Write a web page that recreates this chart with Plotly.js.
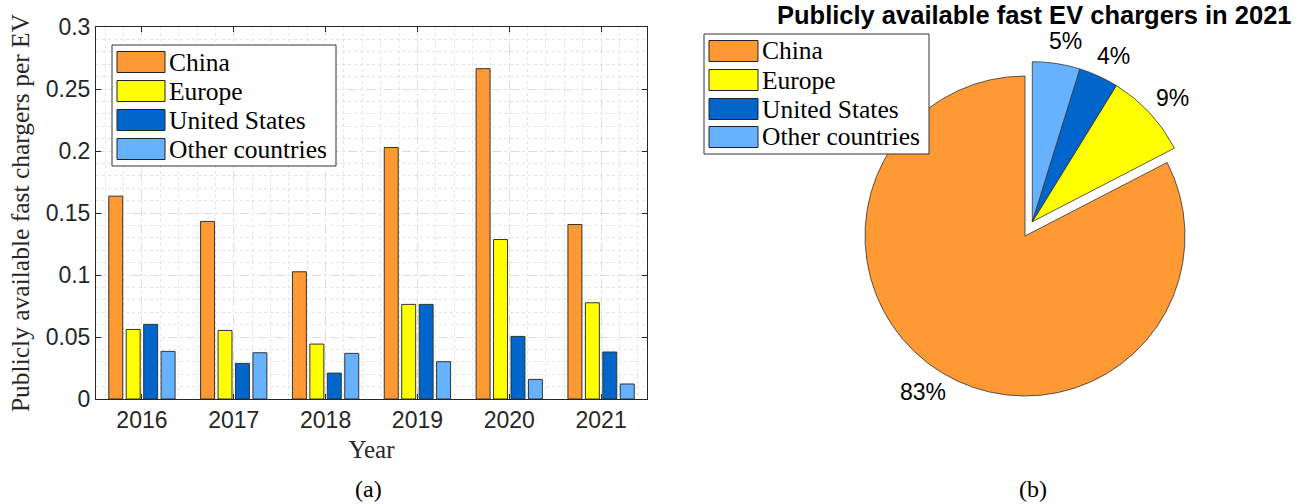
<!DOCTYPE html>
<html>
<head>
<meta charset="utf-8">
<script src="https://cdn.plot.ly/plotly-3.0.1.min.js"></script>
<style>html,body{margin:0;padding:0;background:#fff;}#chart{width:1308px;height:504px;}</style>
</head>
<body>
<div id="chart"></div>
<script>
// ---- data ----
const years = [2016, 2017, 2018, 2019, 2020, 2021];
const seriesNames = ["China", "Europe", "United States", "Other countries"];
const china = [0.1636, 0.1432, 0.1026, 0.2028, 0.2664, 0.1407];
const europe = [0.0561, 0.0553, 0.0443, 0.0763, 0.1286, 0.0776];
const unitedStates = [0.0602, 0.0287, 0.0209, 0.0763, 0.0505, 0.0379];
const otherCountries = [0.0384, 0.0373, 0.0368, 0.0301, 0.0158, 0.0121];
const pieShares2021 = [82.6, 8.6, 4.0, 4.8];
const pieLabels = ["83%", "9%", "4%", "5%"];
const yTickVals = [0, 0.05, 0.1, 0.15, 0.2, 0.25, 0.3];
const yTickText = ["0", "0.05", "0.1", "0.15", "0.2", "0.25", "0.3"];

// ---- style ----
const colors = ["#FF9933", "#FFFF00", "#0066CC", "#66B2FF"];
const clear = "rgba(0,0,0,0)";
const W = 1308, H = 504;
const px = v => v / W;
const py = v => 1 - v / H;
const axisColor = "#262626";
const serif = "Liberation Serif, Times New Roman, serif";
const sans = "Liberation Sans, Arial, sans-serif";

const barSeries = [china, europe, unitedStates, otherCountries];
const traces = barSeries.map((vals, i) => ({
  type: "bar",
  x: years,
  y: vals,
  name: seriesNames[i],
  marker: {color: colors[i], line: {color: "#333333", width: 1}},
  showlegend: false,
  hoverinfo: "x+y+name"
}));

// pie: China first, counter-clockwise; the small slices end at 12 o'clock and are exploded as one group
const pieTotal = pieShares2021.reduce((a, b) => a + b, 0);
const pieRotation = 360 * (pieTotal - pieShares2021[0]) / pieTotal;
const pieR = 160;                       // radius in px
const pieCenter = [1025, 236];          // China's apex
const explodeShift = [7.3, -14.3];      // shift of the exploded group
const groupCenter = [pieCenter[0] + explodeShift[0], pieCenter[1] + explodeShift[1]];
function pieDomain(c) {
  return {x: [px(c[0] - pieR), px(c[0] + pieR)], y: [py(c[1] + pieR), py(c[1] - pieR)]};
}
const mainMask = [true, false, false, false];

traces.push({
  type: "pie", labels: seriesNames, values: pieShares2021, sort: false,
  direction: "counterclockwise", rotation: pieRotation,
  marker: {colors: colors.map((c, i) => mainMask[i] ? c : clear),
           line: {color: "#333333", width: mainMask.map(m => m ? 0.8 : 0)}},
  textinfo: "none", domain: pieDomain(pieCenter), showlegend: false
});
traces.push({
  type: "pie", labels: seriesNames, values: pieShares2021, sort: false,
  direction: "counterclockwise", rotation: pieRotation,
  marker: {colors: colors.map((c, i) => mainMask[i] ? clear : c),
           line: {color: "#333333", width: mainMask.map(m => m ? 0 : 0.8)}},
  textinfo: "none", domain: pieDomain(groupCenter), showlegend: false
});

const shapes = [];
const annotations = [];

// percentage labels outside each slice along its bisector (MATLAB-like)
(function () {
  let a = pieRotation;
  pieShares2021.forEach((v, i) => {
    const span = 360 * v / pieTotal;
    let mid;
    if (i === 0) { mid = a + span / 2; a = pieRotation; }
    else { a = a - span; mid = a + span / 2; }
    const c = mainMask[i] ? pieCenter : groupCenter;
    const rad = mid * Math.PI / 180;
    const d = pieR * 1.14;
    const dx = d * Math.sin(rad), dy = -d * Math.cos(rad);
    const nudge = dx >= 0 ? 6 : -7;
    annotations.push({xref: "paper", yref: "paper", x: px(c[0] + dx + nudge), y: py(c[1] + dy),
      xanchor: "center", yanchor: "middle", showarrow: false, text: pieLabels[i],
      font: {family: sans, size: 23, color: "#000"}});
  });
})();

// custom legends (big MATLAB-style swatches)
function addLegend(x0, x1, y0, y1, swL, swR, rowCenters, textX) {
  shapes.push({type: "rect", xref: "paper", yref: "paper", layer: "above",
    x0: px(x0), x1: px(x1), y0: py(y1), y1: py(y0),
    fillcolor: "#ffffff", line: {color: "#333333", width: 1}});
  seriesNames.forEach((nm, i) => {
    const c = rowCenters[i];
    shapes.push({type: "rect", xref: "paper", yref: "paper", layer: "above",
      x0: px(swL), x1: px(swR), y0: py(c + 10.5), y1: py(c - 10.5),
      fillcolor: colors[i], line: {color: "#222222", width: 1}});
    annotations.push({xref: "paper", yref: "paper", x: px(textX), y: py(c),
      xanchor: "left", yanchor: "middle", showarrow: false, text: nm,
      font: {family: serif, size: 25.5, color: "#000"}});
  });
}
addLegend(112, 336, 45, 166, 117, 165, [62, 91, 120, 149], 167);
addLegend(704, 929, 34, 154, 709, 758, [51, 80, 109, 137], 760);

annotations.push({xref: "paper", yref: "paper", x: px(369), y: py(489), showarrow: false,
  text: "(a)", font: {family: serif, size: 24, color: "#000"}, xanchor: "center", yanchor: "middle"});
annotations.push({xref: "paper", yref: "paper", x: px(1033), y: py(489), showarrow: false,
  text: "(b)", font: {family: serif, size: 24, color: "#000"}, xanchor: "center", yanchor: "middle"});
annotations.push({xref: "paper", yref: "paper", x: px(1034), y: py(15), showarrow: false,
  text: "<b>Publicly available fast EV chargers in 2021</b>",
  font: {family: sans, size: 25.5, color: "#000"}, xanchor: "center", yanchor: "middle"});

const layout = {
  width: W, height: H,
  margin: {l: 0, r: 0, t: 0, b: 0},
  paper_bgcolor: "#fff", plot_bgcolor: "#fff",
  barmode: "group", bargap: 0.24, bargroupgap: 0.2,
  xaxis: {
    domain: [px(96), px(647)],
    range: [2015.5, 2021.5],
    tickvals: years,
    ticktext: years.map(String),
    tickfont: {family: sans, size: 23, color: axisColor},
    ticks: "inside", ticklen: 5, tickcolor: axisColor,
    showline: true, linecolor: axisColor, linewidth: 1, mirror: "ticks",
    showgrid: true, gridcolor: "#dcdcdc", griddash: "dash", gridwidth: 1,
    minor: {dtick: 0.2, tick0: 2016, showgrid: true, gridcolor: "#e4e4e4", griddash: "dot", ticks: ""},
    zeroline: false,
    title: {text: "Year", font: {family: serif, size: 25, color: axisColor}, standoff: 8}
  },
  yaxis: {
    domain: [py(399), py(27)],
    range: [0, 0.3],
    tickvals: yTickVals,
    ticktext: yTickText,
    tickfont: {family: sans, size: 23, color: axisColor},
    ticks: "inside", ticklen: 5, tickcolor: axisColor,
    showline: true, linecolor: axisColor, linewidth: 1, mirror: "ticks",
    showgrid: true, gridcolor: "#dcdcdc", griddash: "dash", gridwidth: 1,
    minor: {dtick: 0.01, showgrid: true, gridcolor: "#e4e4e4", griddash: "dot", ticks: ""},
    zeroline: false,
    title: {text: "Publicly available fast chargers per EV", font: {family: serif, size: 25.5, color: axisColor}, standoff: 8}
  },
  shapes: shapes,
  annotations: annotations,
  showlegend: false
};

Plotly.newPlot("chart", traces, layout, {displayModeBar: false, staticPlot: true});
</script>
</body>
</html>
